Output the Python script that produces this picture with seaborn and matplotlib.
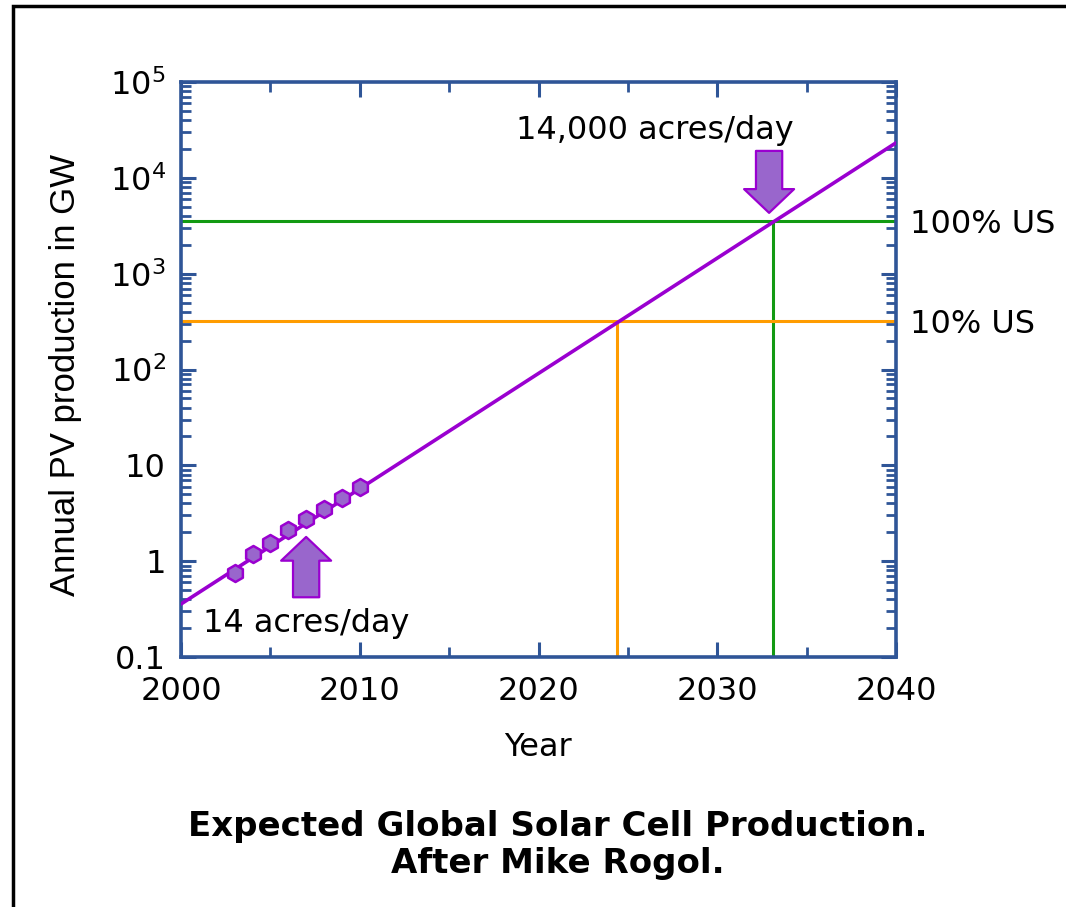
import numpy as np
import pandas as pd
import matplotlib
matplotlib.use("Agg")
import matplotlib.pyplot as plt
import matplotlib.ticker as mticker
from matplotlib.patches import Rectangle
import seaborn as sns

# ---- data ----
data_years = [2003, 2004, 2005, 2006, 2007, 2008, 2009, 2010]
data_gw = [0.76, 1.18, 1.55, 2.1, 2.75, 3.5, 4.6, 6.0]

trend_years = [2000, 2040]
trend_gw = [0.357, 23200]

level_names = ["100% US", "10% US"]
level_gw = [3560, 321]
level_cross_years = [2033.1, 2024.4]
level_colors = ["#129A12", "#FF9C00"]

arrow_labels = ["14 acres/day", "14,000 acres/day"]
arrow_years = [2007.0, 2032.9]
arrow_tail = [0.42, 19100]
arrow_tip = [1.79, 4310]

ytick_vals = [0.1, 1, 10, 100, 1000, 10000, 100000]
ytick_labels = ["0.1", "1", "10", r"$\mathregular{10^2}$", r"$\mathregular{10^3}$",
                r"$\mathregular{10^4}$", r"$\mathregular{10^5}$"]
xtick_vals = [2000, 2010, 2020, 2030, 2040]

title_text = "Expected Global Solar Cell Production.\nAfter Mike Rogol."

# ---- styling ----
sns.set_theme(style="white")
plt.rcParams["font.family"] = ["DejaVu Sans"]
plt.rcParams["mathtext.fontset"] = "dejavusans"
plt.rcParams["text.color"] = "black"
plt.rcParams["axes.labelcolor"] = "black"

AX_COL = "#2F5597"
PURPLE = "#9A00D0"
FILL = "#9966CC"
FS = 23

fig = plt.figure(figsize=(10.66, 9.07), dpi=100)
ax = fig.add_axes([181 / 1066, 1 - 657 / 907, 715 / 1066, 575 / 907])

# frame around the figure (open on right / bottom)
fig.patches.append(Rectangle((12.5 / 1066, -0.05), 1.2, 1 - 6 / 907 + 0.05,
                             transform=fig.transFigure, fill=False,
                             edgecolor="black", linewidth=2.5, zorder=0))

df_trend = pd.DataFrame({"year": trend_years, "gw": trend_gw})
df_data = pd.DataFrame({"year": data_years, "gw": data_gw})

for name, lv, cy, col in zip(level_names, level_gw, level_cross_years, level_colors):
    ax.axhline(lv, color=col, lw=2.2, zorder=2)
    ax.plot([cy, cy], [0.1, lv], color=col, lw=2.2, zorder=2)
    ax.text(2040.8, lv, name, fontsize=FS, va="center_baseline", ha="left",
            clip_on=False, color="black")

sns.lineplot(data=df_trend, x="year", y="gw", ax=ax, color=PURPLE, lw=2.6, zorder=3)
sns.scatterplot(data=df_data, x="year", y="gw", ax=ax, marker="h", s=150,
                color=FILL, edgecolor=PURPLE, linewidth=1.8, zorder=4)

for ay, t0, t1 in zip(arrow_years, arrow_tail, arrow_tip):
    ax.annotate("", xy=(ay, t1), xytext=(ay, t0),
                arrowprops=dict(arrowstyle="simple,head_width=2.0,head_length=0.95,tail_width=1.05",
                                mutation_scale=18, fc=FILL, ec=PURPLE, lw=1.6,
                                shrinkA=0, shrinkB=0), zorder=5)

ax.text(2001.25, 0.226, arrow_labels[0], fontsize=FS, ha="left", va="center")
ax.text(2026.5, 31000, arrow_labels[1], fontsize=FS, ha="center", va="center")

ax.set_yscale("log")
ax.set_xlim(2000, 2040)
ax.set_ylim(0.1, 1e5)
ax.set_xticks(xtick_vals)
ax.xaxis.set_minor_locator(mticker.MultipleLocator(5))
ax.set_yticks(ytick_vals)
ax.set_yticklabels(ytick_labels)
ax.yaxis.set_minor_locator(mticker.LogLocator(base=10, subs=np.arange(2, 10), numticks=20))
ax.yaxis.set_minor_formatter(mticker.NullFormatter())

for sp in ax.spines.values():
    sp.set_color(AX_COL)
    sp.set_linewidth(2.6)
    sp.set_visible(True)
ax.tick_params(which="both", direction="in", top=True, right=True, bottom=True, left=True,
               color=AX_COL, labelsize=FS, labelcolor="black")
ax.tick_params(which="major", length=11, width=2.2)
ax.tick_params(which="minor", length=7, width=2.0)
ax.tick_params(axis="x", which="major", pad=14)
ax.tick_params(axis="y", which="major", pad=11)

ax.set_xlabel("Year", fontsize=FS)
ax.xaxis.set_label_coords(0.5, -0.13)
ax.set_ylabel("Annual PV production in GW", fontsize=25, family="Liberation Sans")
ax.yaxis.set_label_coords(-0.138, 0.49)

fig.text(558 / 1066, 1 - 845 / 907, title_text, fontsize=24.5, fontweight="bold",
         ha="center", va="center", linespacing=1.15)

fig.savefig("out.png", dpi=100)
